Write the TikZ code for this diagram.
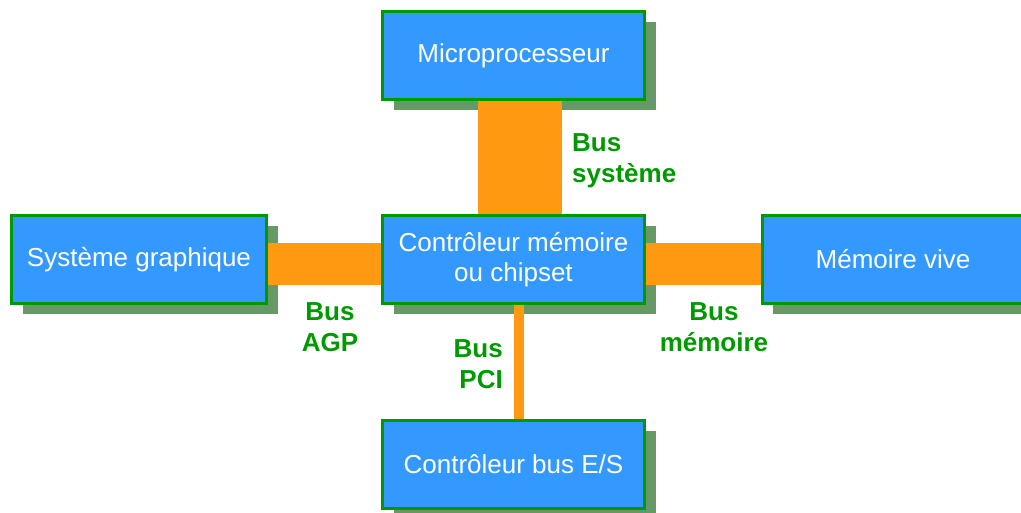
\documentclass[tikz,border=0pt]{standalone}
\usepackage{fontspec}
\setmainfont{Liberation Sans}
\usepackage{tikz}
\usetikzlibrary{positioning, shadows}

\definecolor{boxblue}{HTML}{3399FF}
\definecolor{boxgreen}{HTML}{009900}
\definecolor{boxshadow}{HTML}{669966}
\definecolor{busorange}{HTML}{FF9911}

\begin{document}
\begin{tikzpicture}[x=1pt, y=-1pt,
    unit/.style={draw=boxgreen, line width=3pt, fill=boxblue, text=white,
        minimum width=262pt, minimum height=88pt, inner sep=0pt, align=center,
        font=\fontsize{26}{30}\selectfont,
        drop shadow={shadow xshift=11pt, shadow yshift=-11pt, fill=boxshadow, opacity=1}},
    bus/.style={draw=busorange},
    buslabel/.style={text=boxgreen, inner sep=0pt, font=\fontsize{26}{31}\selectfont\bfseries}]
        \useasboundingbox (0,0) rectangle (1021,513);

        % Units
        \node[unit] (cpu) at (513.5,55.5) {Microprocesseur};
        \node[unit] (chipset) at (513.5,259.5) {Contrôleur mémoire\\ou chipset};
        \node[unit, minimum width=255pt] (graphics) at (139,259.5) {Système graphique};
        \node[unit] (ram) at (893,259.5) {Mémoire vive};
        \node[unit] (io) at (513.5,464) {Contrôleur bus E/S};

        % Buses
        \draw[bus, line width=84pt] ([xshift=6.5pt]cpu.south) -- ([xshift=6.5pt]chipset.north);
        \draw[bus, line width=42pt] ([yshift=-5pt]graphics.east) -- ([yshift=-5pt]chipset.west);
        \draw[bus, line width=42pt] ([yshift=-5pt]chipset.east) -- ([yshift=-5pt]ram.west);
        \draw[bus, line width=10pt] ([xshift=5.5pt]chipset.south) -- ([xshift=5.5pt]io.north);

        % Labels
        \node[buslabel, align=left, anchor=west] (lsys) at (572,161) {Bus\\système};
        \node[buslabel, align=center] (lagp) at (330,327) {Bus\\AGP};
        \node[buslabel, align=center] (lmem) at (714,327) {Bus\\mémoire};
        \node[buslabel, align=right, anchor=east] (lpci) at (503,364) {Bus\\PCI};
\end{tikzpicture}
\end{document}
